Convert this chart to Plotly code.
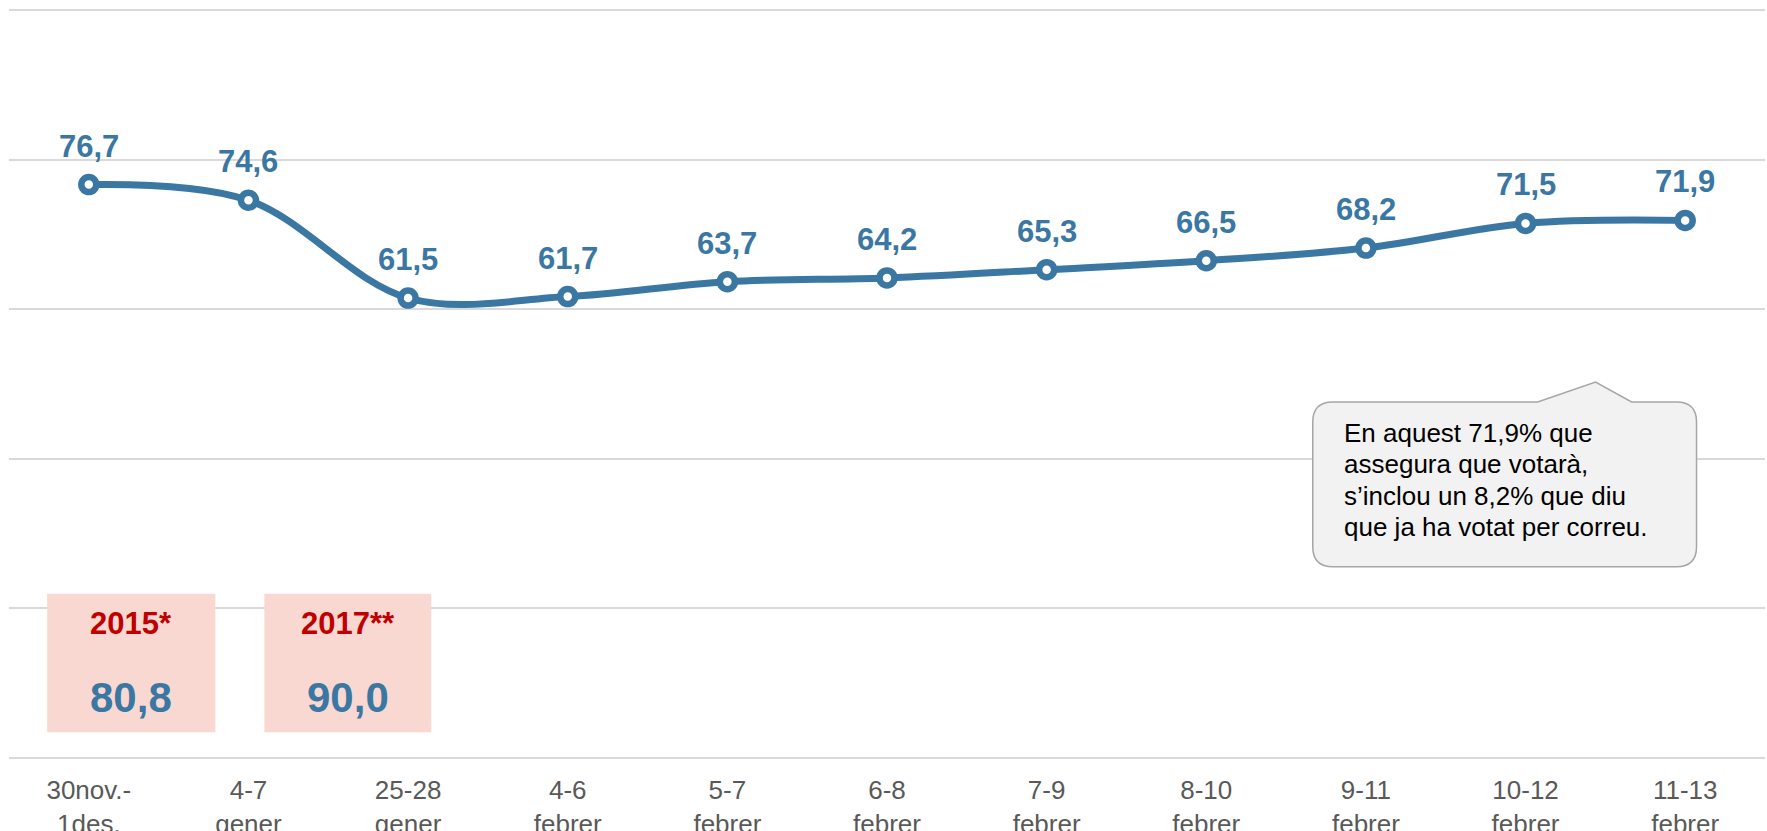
import plotly.graph_objects as go

# Dades: intenció de vot segura (%) per onada de l'enquesta
periods = ["30nov.-<br>1des.", "4-7<br>gener", "25-28<br>gener", "4-6<br>febrer",
           "5-7<br>febrer", "6-8<br>febrer", "7-9<br>febrer", "8-10<br>febrer",
           "9-11<br>febrer", "10-12<br>febrer", "11-13<br>febrer"]
values = [76.7, 74.6, 61.5, 61.7, 63.7, 64.2, 65.3, 66.5, 68.2, 71.5, 71.9]

# participació real a les eleccions anteriors
ref_years = ["2015*", "2017**"]
ref_values = [80.8, 90.0]

note_lines = ["En aquest 71,9% que", "assegura que votarà,",
              "s\u2019inclou un 8,2% que diu", "que ja ha votat per correu."]

BLUE = "#3A77A3"
FONT = "Liberation Sans, Arial, sans-serif"

W, H = 1767, 831
L, R, T, B = 8.5, 1765.5, 10, 758   # caixa de 0..100 en píxels
PAD = 0.2                            # marge de rang perquè es vegin les línies 0 i 100
UNIT = (B - T) / 100


def px(x):
    return (x - L) / (R - L)


def py(y):
    top, bot = T - PAD * UNIT, B + PAD * UNIT
    return (bot - y) / (bot - top)


def fmt(v):
    return f"{v:.1f}".replace(".", ",")


fig = go.Figure()
fig.add_trace(go.Scatter(
    x=periods, y=values, mode="lines+markers",
    line=dict(color=BLUE, width=7, shape="spline", smoothing=1),
    marker=dict(size=15, color="white", line=dict(color=BLUE, width=6.5)),
    hoverinfo="skip",
))

annotations = []
for p, v in zip(periods, values):
    annotations.append(dict(
        x=p, y=v, xref="x", yref="y", text=f"<b>{fmt(v)}</b>",
        showarrow=False, yanchor="bottom", yshift=19,
        font=dict(family=FONT, size=31, color=BLUE),
    ))

shapes = []
# quadres rosa amb la participació de 2015 i 2017
box_x = [(46.7, 215), (264, 431)]
for (x0, x1), yr, val in zip(box_x, ref_years, ref_values):
    shapes.append(dict(type="rect", xref="paper", yref="paper",
                       x0=px(x0), x1=px(x1), y0=py(732.7), y1=py(594),
                       fillcolor="#F9D8D1", line=dict(width=0), layer="above"))
    cx = px((x0 + x1) / 2)
    annotations.append(dict(x=cx, y=py(624), xref="paper", yref="paper",
                            xanchor="center", yanchor="middle",
                            text=f"<b>{yr}</b>", showarrow=False,
                            font=dict(family=FONT, size=31, color="#C00000")))
    annotations.append(dict(x=cx, y=py(698), xref="paper", yref="paper",
                            xanchor="center", yanchor="middle",
                            text=f"<b>{fmt(val)}</b>", showarrow=False,
                            font=dict(family=FONT, size=42, color=BLUE)))

# globus de la nota
bl, br, bt, bb, rad = 1313, 1697, 402, 567, 20
pts = [("M", bl + rad, bt), ("L", 1538, bt), ("L", 1596, 382), ("L", 1632, bt),
       ("L", br - rad, bt), ("Q", br, bt, br, bt + rad), ("L", br, bb - rad),
       ("Q", br, bb, br - rad, bb), ("L", bl + rad, bb), ("Q", bl, bb, bl, bb - rad),
       ("L", bl, bt + rad), ("Q", bl, bt, bl + rad, bt)]
path = ""
for p in pts:
    cmd, coords = p[0], p[1:]
    xy = [f"{px(coords[i]):.5f},{py(coords[i + 1]):.5f}" for i in range(0, len(coords), 2)]
    path += cmd + " ".join(xy) + " "
shapes.append(dict(type="path", xref="paper", yref="paper", path=path + "Z",
                   fillcolor="#F2F2F2", line=dict(color="#A6A6A6", width=1.5),
                   layer="above"))
for i, line in enumerate(note_lines):
    annotations.append(dict(x=px(1342), y=py(444 + i * 31.4), xref="paper", yref="paper",
                            text=line, showarrow=False, xanchor="left", yanchor="bottom",
                            yshift=-6, font=dict(family=FONT, size=26, color="#000000")))

fig.update_layout(
    width=W, height=H,
    margin=dict(l=L, r=W - R, t=T - PAD * UNIT, b=H - B - PAD * UNIT),
    plot_bgcolor="white", paper_bgcolor="white",
    showlegend=False,
    shapes=shapes, annotations=annotations,
    font=dict(family=FONT),
)
fig.update_xaxes(
    range=[-0.5, 10.5], showgrid=False, zeroline=False, showline=False,
    ticks="outside", ticklen=8, tickcolor="rgba(0,0,0,0)",
    tickfont=dict(family=FONT, size=26, color="#595959"), automargin=False,
)
fig.update_yaxes(
    range=[-PAD, 100 + PAD], tickvals=[0, 20, 40, 60, 80, 100], showgrid=True,
    gridcolor="#D9D9D9", gridwidth=2,
    zeroline=False, showticklabels=False, showline=False, automargin=False,
)

fig.write_html("out.html", config={"displayModeBar": False},
               post_script="document.body.style.margin='0';")
